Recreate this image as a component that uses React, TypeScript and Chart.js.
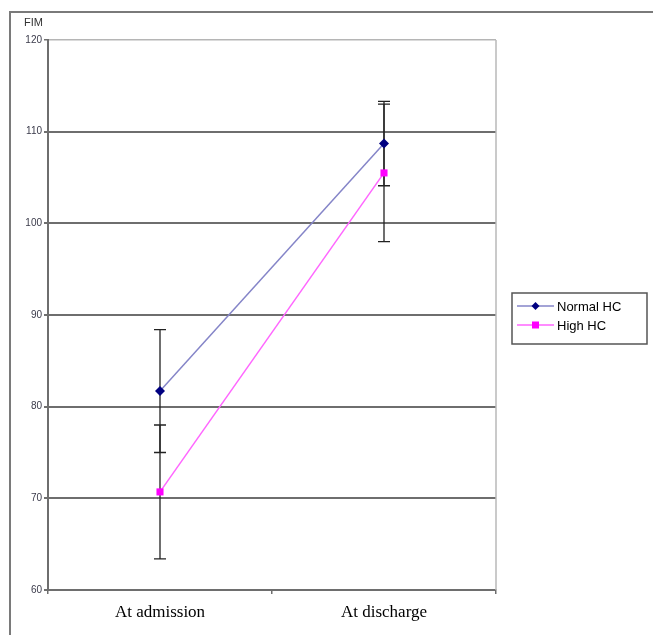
import React, { useEffect, useRef } from "react";
import { Chart, registerables } from "chart.js";

Chart.register(...registerables);

const categories = ["At admission", "At discharge"];
const normalHC = [81.7, 108.7];
const normalHCErr = [6.7, 4.6];
const highHC = [70.7, 105.5];
const highHCErr = [7.3, 7.5];
const seriesNames = ["Normal HC", "High HC"];
const yTicks = [60, 70, 80, 90, 100, 110, 120];

const errs = [normalHCErr, highHCErr];

const framePlugin = {
  id: "frame",
  beforeDraw(chart: any) {
    const ctx = chart.ctx;
    ctx.save();
    ctx.strokeStyle = "#7a7a7a";
    ctx.lineWidth = 2;
    ctx.beginPath();
    ctx.moveTo(653, 12);
    ctx.lineTo(10, 12);
    ctx.lineTo(10, 635);
    ctx.stroke();
    ctx.fillStyle = "#333";
    ctx.font = "11px Arial, 'Liberation Sans', sans-serif";
    ctx.textBaseline = "middle";
    ctx.fillText("FIM", 24, 23);
    ctx.restore();
  },
  afterDraw(chart: any) {
    const ctx = chart.ctx;
    const a = chart.chartArea;
    ctx.save();
    ctx.strokeStyle = "#b8b8b8";
    ctx.lineWidth = 1.5;
    ctx.beginPath();
    ctx.moveTo(a.right, a.top);
    ctx.lineTo(a.right, a.bottom);
    ctx.stroke();
    // legend
    const lx = 512, ly = 293, lw = 135, lh = 51;
    ctx.strokeStyle = "#555";
    ctx.lineWidth = 1.5;
    ctx.strokeRect(lx, ly, lw, lh);
    chart.data.datasets.forEach((ds: any, i: number) => {
      const y = ly + 13 + i * 19;
      ctx.strokeStyle = ds.borderColor;
      ctx.lineWidth = 1.5;
      ctx.beginPath();
      ctx.moveTo(lx + 5, y);
      ctx.lineTo(lx + 42, y);
      ctx.stroke();
      ctx.fillStyle = ds.pointBackgroundColor;
      if (ds.pointStyle === "rect") {
        ctx.fillRect(lx + 20, y - 3.5, 7, 7);
      } else {
        ctx.beginPath();
        ctx.moveTo(lx + 23.5, y - 4);
        ctx.lineTo(lx + 27.5, y);
        ctx.lineTo(lx + 23.5, y + 4);
        ctx.lineTo(lx + 19.5, y);
        ctx.closePath();
        ctx.fill();
      }
      ctx.fillStyle = "#000";
      ctx.font = "13px Arial, 'Liberation Sans', sans-serif";
      ctx.textBaseline = "middle";
      ctx.fillText(ds.label, lx + 45, y + 1);
    });
    ctx.restore();
  },
  beforeDatasetsDraw(chart: any) {
    const ctx = chart.ctx;
    const ys = chart.scales.y;
    ctx.save();
    ctx.strokeStyle = "#222";
    ctx.lineWidth = 1.3;
    chart.data.datasets.forEach((ds: any, i: number) => {
      const meta = chart.getDatasetMeta(i);
      meta.data.forEach((pt: any, j: number) => {
        const v = ds.data[j];
        const e = errs[i][j];
        const x = pt.x;
        const yt = ys.getPixelForValue(v + e);
        const yb = ys.getPixelForValue(v - e);
        ctx.beginPath();
        ctx.moveTo(x, yt);
        ctx.lineTo(x, yb);
        ctx.moveTo(x - 6, yt);
        ctx.lineTo(x + 6, yt);
        ctx.moveTo(x - 6, yb);
        ctx.lineTo(x + 6, yb);
        ctx.stroke();
      });
    });
    ctx.restore();
  },
};

export default function App() {
  const ref = useRef<HTMLCanvasElement>(null);
  useEffect(() => {
    const chart = new Chart(ref.current!, {
      type: "line",
      data: {
        labels: categories,
        datasets: [
          {
            label: seriesNames[0],
            data: normalHC,
            borderColor: "#8585c8",
            borderWidth: 1.5,
            pointStyle: "rectRot",
            pointRadius: 5,
            pointBackgroundColor: "#000080",
            pointBorderColor: "#000080",
            pointBorderWidth: 0,
          },
          {
            label: seriesNames[1],
            data: highHC,
            borderColor: "#ff66ff",
            borderWidth: 1.5,
            pointStyle: "rect",
            pointRadius: 5,
            pointBackgroundColor: "#ff00ff",
            pointBorderColor: "#ff00ff",
            pointBorderWidth: 0,
          },
        ],
      },
      options: {
        animation: false,
        responsive: false,
        layout: { padding: { left: 0, top: 40, right: 157, bottom: 0 } },
        plugins: { legend: { display: false }, tooltip: { enabled: false } },
        scales: {
          x: {
            offset: true,
            afterFit: (s: any) => { s.height = 45; },
            border: { color: "#6e6e6e", width: 2 },
            grid: { offset: true, drawOnChartArea: false, drawTicks: true, tickLength: 4, color: "#6e6e6e", lineWidth: 1.5 },
            ticks: {
              color: "#000",
              padding: 8,
              font: { family: "'Liberation Serif', 'Times New Roman', serif", size: 17 },
            },
          },
          y: {
            min: 60,
            max: 120,
            afterFit: (s: any) => { s.width = 48; },
            afterBuildTicks: (s: any) => { s.ticks = yTicks.map((v) => ({ value: v })); },
            border: { color: "#6e6e6e", width: 2 },
            grid: {
              color: (c: any) => (c.tick && c.tick.value === 120 ? "#b5b5b5" : "#6e6e6e"),
              lineWidth: (c: any) => (c.tick && c.tick.value === 120 ? 1.5 : 2),
              tickLength: 4,
              tickColor: "#6e6e6e",
            },
            ticks: {
              color: "#3a3a4a",
              padding: 2,
              font: { family: "Arial, 'Liberation Sans', sans-serif", size: 10 },
            },
          },
        },
      },
      plugins: [framePlugin],
    });
    return () => chart.destroy();
  }, []);
  return (
    <div style={{ position: "fixed", left: 0, top: 0, width: 653, height: 635 }}>
      <canvas ref={ref} width={653} height={635} style={{ width: 653, height: 635, display: "block" }} />
    </div>
  );
}
